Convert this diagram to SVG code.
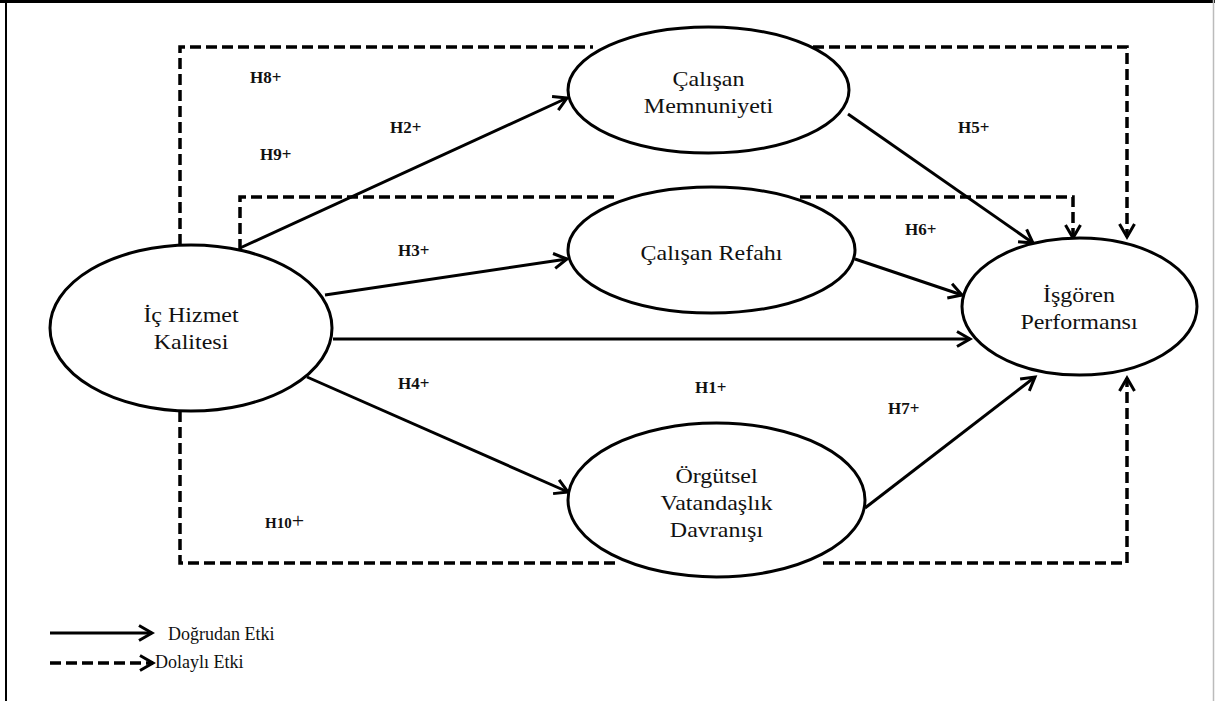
<svg xmlns="http://www.w3.org/2000/svg" width="1215" height="701" viewBox="0 0 1215 701">
<style>
.node ellipse{fill:#fff;stroke:#000;stroke-width:3}
.nt{font-family:"Liberation Serif","Times New Roman",serif;font-size:20px;fill:#111;text-anchor:middle}
.lbl{font-family:"Liberation Serif","Times New Roman",serif;font-size:17px;font-weight:bold;fill:#111}
.solid{fill:none;stroke:#000;stroke-width:3}
.dash{fill:none;stroke:#000;stroke-width:3.5;stroke-dasharray:11 5}
.leg{font-family:"Liberation Serif","Times New Roman",serif;font-size:18px;fill:#111}
</style>
<defs>
<marker id="ah" markerUnits="userSpaceOnUse" markerWidth="20" markerHeight="20" refX="13" refY="0" viewBox="-2 -10 20 20" orient="auto" overflow="visible">
<path d="M0,-7.5 L13,0 L0,7.5" fill="none" stroke="#000" stroke-width="3" stroke-dasharray="none" stroke-linejoin="miter"/>
</marker>
</defs>
<rect x="0" y="0" width="1215" height="701" fill="#fff"/>
<line x1="0" y1="1.5" x2="1215" y2="1.5" stroke="#000" stroke-width="3"/>
<line x1="6" y1="0" x2="6" y2="701" stroke="#000" stroke-width="2"/>
<line x1="1213.5" y1="0" x2="1213.5" y2="701" stroke="#bbb" stroke-width="1.5"/>
<g id="connectors">
<path class="dash" d="M180,245 V47 H593"/>
<path class="dash" d="M813,47 H1127 V237" marker-end="url(#ah)"/>
<path class="dash" d="M240,250 V197 H618"/>
<path class="dash" d="M800,197 H1073 V238" marker-end="url(#ah)"/>
<path class="dash" d="M180,411 V563 H618"/>
<path class="dash" d="M823,563 H1127 V378" marker-end="url(#ah)"/>
<line class="solid" x1="240" y1="248" x2="567" y2="98" marker-end="url(#ah)"/>
<line class="solid" x1="325" y1="295" x2="567" y2="259" marker-end="url(#ah)"/>
<line class="solid" x1="333" y1="339" x2="970" y2="339" marker-end="url(#ah)"/>
<line class="solid" x1="307" y1="377" x2="568" y2="492" marker-end="url(#ah)"/>
<line class="solid" x1="848" y1="114" x2="1033" y2="243" marker-end="url(#ah)"/>
<line class="solid" x1="855" y1="259" x2="962" y2="295" marker-end="url(#ah)"/>
<line class="solid" x1="865" y1="508" x2="1035" y2="377" marker-end="url(#ah)"/>
</g>
<g id="n_ihk" class="node">
<ellipse cx="191" cy="328" rx="141" ry="83"/>
<g transform="translate(191,0) scale(1.2,1)">
<text class="nt" x="0" y="322">İç Hizmet</text>
<text class="nt" x="0" y="349">Kalitesi</text>
</g>
</g>
<g id="n_cm" class="node">
<ellipse cx="708.5" cy="90" rx="140.5" ry="63"/>
<g transform="translate(708.5,0) scale(1.2,1)">
<text class="nt" x="0" y="86">Çalışan</text>
<text class="nt" x="0" y="113">Memnuniyeti</text>
</g>
</g>
<g id="n_cr" class="node">
<ellipse cx="711.5" cy="250" rx="143.5" ry="63"/>
<g transform="translate(711.5,0) scale(1.2,1)">
<text class="nt" x="0" y="260">Çalışan Refahı</text>
</g>
</g>
<g id="n_ovd" class="node">
<ellipse cx="716.5" cy="500" rx="148.5" ry="77"/>
<g transform="translate(716.5,0) scale(1.2,1)">
<text class="nt" x="0" y="483">Örgütsel</text>
<text class="nt" x="0" y="510">Vatandaşlık</text>
<text class="nt" x="0" y="537">Davranışı</text>
</g>
</g>
<g id="n_ip" class="node">
<ellipse cx="1079.5" cy="306.5" rx="117.5" ry="68.5"/>
<g transform="translate(1079,0) scale(1.2,1)">
<text class="nt" x="0" y="302">İşgören</text>
<text class="nt" x="0" y="329">Performansı</text>
</g>
</g>
<g id="labels">
<text class="lbl" x="250" y="83">H8+</text>
<text class="lbl" x="260" y="160">H9+</text>
<text class="lbl" x="390" y="133">H2+</text>
<text class="lbl" x="958" y="133">H5+</text>
<text class="lbl" x="398" y="256">H3+</text>
<text class="lbl" x="905" y="235">H6+</text>
<text class="lbl" x="695" y="393">H1+</text>
<text class="lbl" x="398" y="389">H4+</text>
<text class="lbl" x="888" y="414">H7+</text>
<text class="lbl" x="265" y="528" style="font-size:15px">H10<tspan style="font-weight:normal;font-size:22px">+</tspan></text>
</g>
<g id="legend">
<line class="solid" x1="50" y1="633" x2="152" y2="633" marker-end="url(#ah)"/>
<text class="leg" x="168" y="640">Doğrudan Etki</text>
<path class="dash" d="M50,663 H153" marker-end="url(#ah)"/>
<text class="leg" x="155" y="668">Dolaylı Etki</text>
</g>
</svg>
